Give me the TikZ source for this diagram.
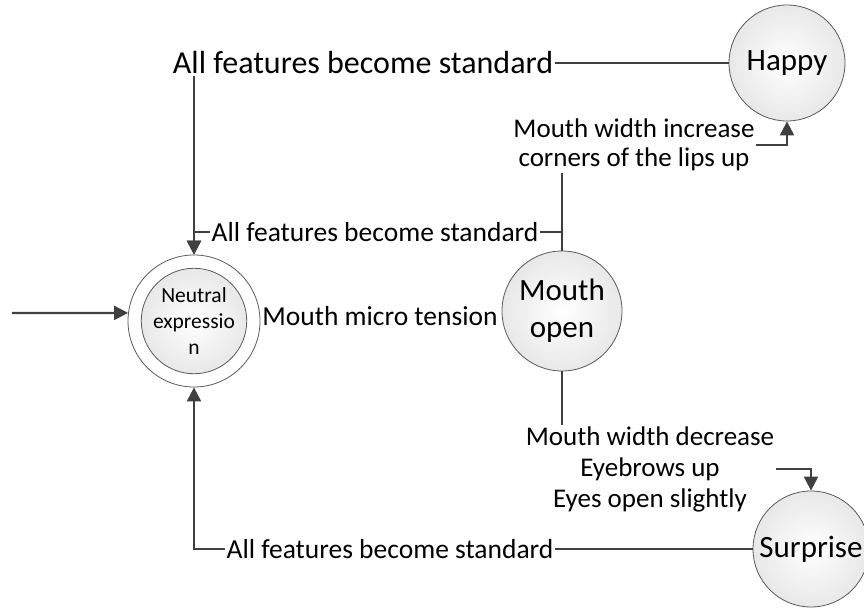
\documentclass[tikz,border=0pt]{standalone}
\usepackage{fontspec}
\setmainfont{Carlito}
\usetikzlibrary{arrows.meta,shapes.geometric}
\definecolor{conn}{HTML}{404040}
\definecolor{rim}{HTML}{5A5A5A}
\tikzset{
  state/.style={circle, draw=rim, line width=0.8pt, inner color=white, outer color=black!9, inner sep=0pt, align=center, font=\fontsize{31}{37}\selectfont},
  lbl/.style={inner sep=1.5pt, align=center, font=\fontsize{27.5}{30}\selectfont},
  conn/.style={draw=conn, line width=2.2pt},
  tip/.style={conn, -{Triangle[length=14pt,width=14pt]}}
}
\begin{document}
\begin{tikzpicture}[x=1pt,y=-1pt]
\useasboundingbox[fill=white] (0,0) rectangle (864,609);
% states
\node[circle, draw=rim, line width=0.8pt, fill=white, minimum size=132pt, inner sep=0pt] (n) at (194,321) {};
\node[state, minimum size=102pt, font=\fontsize{21.5}{26}\selectfont] (ni) at (194,321) {Neutral\\expressio\\n};
\node[state, minimum size=120pt] (mo) at (562,311) {Mouth\\open};
\node[state, minimum size=116pt] (h) at (787,63) {Happy};
\node[state, minimum size=116pt] (s) at (811,549) {Surprise};
% labels
\node[lbl, font=\fontsize{32}{34}\selectfont] (l1) at (363,63) {All features become standard};
\node[lbl] (l2) at (375,232) {All features become standard};
\node[lbl] (l3) at (390,549) {All features become standard};
\node[lbl, inner sep=0pt] (lm) at (380,316) {Mouth micro tension};
\node[lbl, font=\fontsize{27}{29}\selectfont] (lh) at (634,145) {Mouth width increase\\corners of the lips up};
\node[lbl, font=\fontsize{27}{31}\selectfont] (ls) at (650,469) {Mouth width decrease\\Eyebrows up\\Eyes open slightly};
% entry
\coordinate (start) at (12,313);
\draw[tip] (start) -- (n.173);
% Happy -> Neutral
\draw[conn] (h.west) -- (l1.east);
\draw[tip] (l1.south -| n.north) -- (n.north);
% Mouth open -> Neutral
\draw[conn] (mo.north) |- (l2.east);
\draw[tip] (l2.west) -| (n.north);
% Mouth open -> Happy
\draw[conn] (mo.north) -- (mo.north |- lh.south);
\draw[tip] (lh.east) -| (h.south);
% Mouth open -> Surprise
\draw[conn] (mo.south) -- (mo.south |- ls.north);
\draw[tip] (ls.east) -| (s.north);
% Surprise -> Neutral
\draw[conn] (s.west) -- (l3.east);
\draw[tip] (l3.west) -| (n.south);
\end{tikzpicture}
\end{document}
